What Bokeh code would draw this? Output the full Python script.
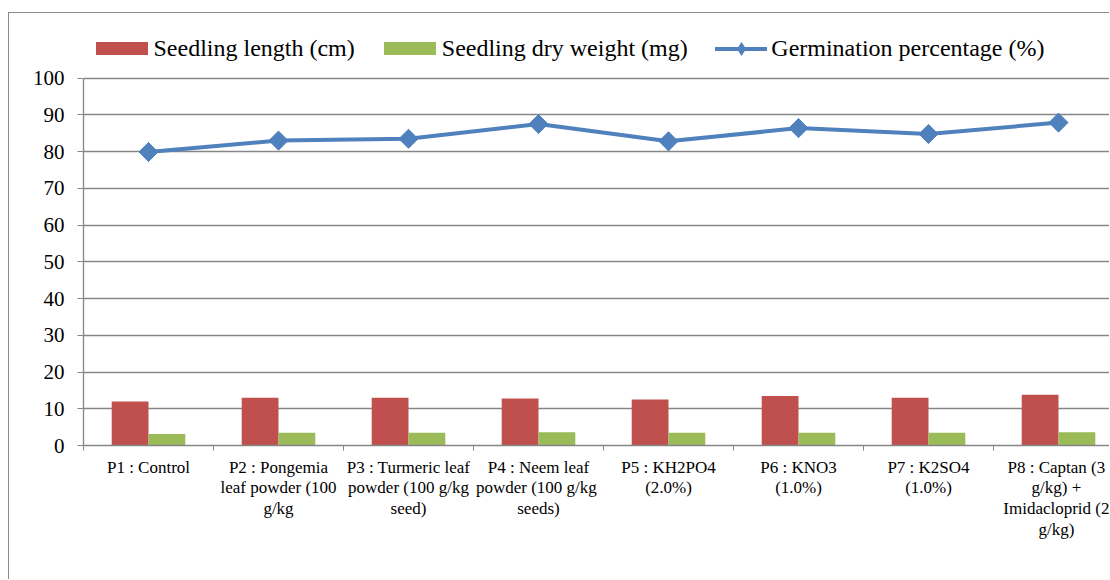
import numpy as np
from bokeh.plotting import figure
from bokeh.models import Range1d, FixedTicker, Legend, LegendItem
from bokeh.embed import file_html
from bokeh.resources import INLINE

# ---- data ----
categories = [
    "P1 : Control",
    "P2 : Pongemia\nleaf powder (100\ng/kg",
    "P3 : Turmeric leaf\npowder (100 g/kg\nseed)",
    "P4 : Neem leaf\npowder  (100 g/kg\nseeds)",
    "P5 : KH2PO4\n(2.0%)",
    "P6 : KNO3\n(1.0%)",
    "P7 : K2SO4\n(1.0%)",
    "P8 : Captan (3\ng/kg) +\nImidacloprid (2\ng/kg)",
]
seedling_length = [12.0, 13.0, 13.0, 12.8, 12.5, 13.5, 13.0, 13.8]
seedling_dry_weight = [3.1, 3.45, 3.45, 3.6, 3.45, 3.5, 3.5, 3.6]
germination = [79.9, 83.0, 83.5, 87.5, 82.8, 86.4, 84.8, 87.9]
y_ticks = list(range(0, 101, 10))

series_names = ["Seedling length (cm)", "Seedling dry weight (mg)", "Germination percentage (%)"]
RED, GREEN, BLUE = "#C0504D", "#9BBB59", "#4F81BD"
GRID = "#868686"
FONT = "Liberation Serif"

n = len(categories)
centers = [i + 0.5 for i in range(n)]
bounds = [float(i) for i in range(n + 1)]
bar_w = 0.283

W, H = 1101, 567
# the frame reaches up to the top of the canvas so that the legend (drawn
# inside it) is not clipped; the value axis itself stops at 100
p = figure(width=W, height=H, output_backend="svg", toolbar_location=None,
           x_range=Range1d(0, 7.9), y_range=Range1d(0, 117.6),
           min_border_left=74, min_border_right=0, min_border_top=0,
           min_border_bottom=135)
p.outline_line_color = None
p.background_fill_color = "white"
p.border_fill_color = "white"
# outer chart border (only its left and top edges fall inside the window)
p.styles = {"margin-left": "8px", "margin-top": "12px",
            "border-left": "1px solid #8a8a8a", "border-top": "1px solid #8a8a8a"}

r_len = p.vbar(x=[c - bar_w / 2 for c in centers], top=seedling_length, width=bar_w,
               fill_color=RED, line_color=None)
r_dry = p.vbar(x=[c + bar_w / 2 for c in centers], top=seedling_dry_weight, width=bar_w,
               fill_color=GREEN, line_color=None)
r_line = p.line(centers, germination, line_color=BLUE, line_width=4, line_cap="round")
r_pts = p.scatter(centers, germination, marker="square", angle=np.pi / 4, size=13.5,
                  fill_color=BLUE, line_color=BLUE)
# a diamond drawn inside each point marker; it supplies the legend's diamond
r_pts_leg = p.scatter(centers, germination, marker="diamond", size=12,
                      fill_color=BLUE, line_color=None)

# axes
xa = p.xaxis[0]
xa.ticker = FixedTicker(ticks=centers, minor_ticks=bounds)
xa.major_label_overrides = {c: lab for c, lab in zip(centers, categories)}
xa.major_tick_out = 0
xa.major_tick_in = 0
xa.minor_tick_out = 5
xa.minor_tick_in = 0
xa.minor_tick_line_color = GRID
xa.axis_line_color = GRID
xa.axis_line_width = 1.3
xa.major_label_text_font = FONT
xa.major_label_text_font_size = "17px"
xa.major_label_text_line_height = 1.1
xa.major_label_text_color = "black"
xa.major_label_standoff = 7
xa.major_label_orientation = "horizontal"

ya = p.yaxis[0]
ya.ticker = FixedTicker(ticks=y_ticks, minor_ticks=[])
ya.bounds = (y_ticks[0], y_ticks[-1])
ya.major_tick_out = 6
ya.major_tick_in = 0
ya.major_tick_line_color = GRID
ya.axis_line_color = GRID
ya.axis_line_width = 1.3
ya.major_label_text_font = FONT
ya.major_label_text_font_size = "21px"
ya.major_label_text_color = "black"
ya.major_label_standoff = 13

p.xgrid.grid_line_color = None
p.ygrid.ticker = FixedTicker(ticks=y_ticks)
p.ygrid.grid_line_color = GRID
p.ygrid.grid_line_width = 1.3

common = dict(orientation="horizontal", padding=0, margin=0, border_line_color=None,
              background_fill_alpha=0, label_text_font=FONT,
              label_text_font_size="24px", label_text_color="black", label_height=30)

legend_bars = Legend(
    items=[LegendItem(label=series_names[0], renderers=[r_len]),
           LegendItem(label=series_names[1], renderers=[r_dry])],
    location=(5.5, 381.7), glyph_width=65, glyph_height=16, label_standoff=0,
    spacing=22, **common)
legend_line = Legend(
    items=[LegendItem(label=series_names[2], renderers=[r_line, r_pts_leg])],
    location=(632.3, 379.2), glyph_width=52, glyph_height=35, label_standoff=4,
    spacing=0, **common)
p.add_layout(legend_bars, "center")
p.add_layout(legend_line, "center")

open("out.html", "w").write(file_html(p, INLINE))
